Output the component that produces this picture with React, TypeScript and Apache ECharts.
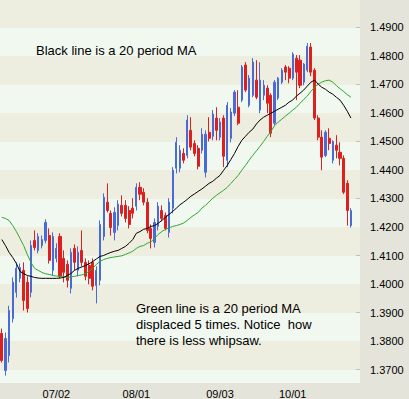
import React, { useEffect, useRef } from "react";
import * as echarts from "echarts";

// ---- data -------------------------------------------------------------
const startDate = [2007, 5, 11]; // first bar: 11 June (weekdays only)
const slotCount = 99; // category slots on the x axis (last two empty)
const tickLabels = ["07/02", "08/01", "09/03", "10/01"];
const yTicks = [1.37, 1.38, 1.39, 1.4, 1.41, 1.42, 1.43, 1.44, 1.45, 1.46, 1.47, 1.48, 1.49];
const yMin = 1.3653;
const yMax = 1.4996;

// [open, close, low, high]
const candles = [
  [1.3827, 1.3732, 1.3725, 1.3844],
  [1.3697, 1.3809, 1.3679, 1.383],
  [1.3749, 1.3907, 1.3725, 1.3924],
  [1.3879, 1.4006, 1.3865, 1.4023],
  [1.3971, 1.4055, 1.3953, 1.4076],
  [1.402, 1.4058, 1.4006, 1.4072],
  [1.4048, 1.3942, 1.3907, 1.4076],
  [1.4006, 1.3914, 1.39, 1.4027],
  [1.3971, 1.4135, 1.3953, 1.4153],
  [1.4153, 1.4128, 1.4118, 1.4188],
  [1.4118, 1.4167, 1.4108, 1.4178],
  [1.4135, 1.4156, 1.4125, 1.417],
  [1.4153, 1.4216, 1.4143, 1.4227],
  [1.417, 1.4083, 1.4072, 1.4195],
  [1.4048, 1.4167, 1.403, 1.4181],
  [1.409, 1.4125, 1.4076, 1.4143],
  [1.4167, 1.4027, 1.402, 1.4178],
  [1.409, 1.4041, 1.4006, 1.4118],
  [1.4069, 1.4013, 1.3988, 1.4083],
  [1.3985, 1.4111, 1.3967, 1.4125],
  [1.4125, 1.4076, 1.4048, 1.4139],
  [1.4048, 1.4111, 1.4027, 1.4132],
  [1.4118, 1.4076, 1.4062, 1.4188],
  [1.4076, 1.4027, 1.4013, 1.409],
  [1.4065, 1.402, 1.3999, 1.4083],
  [1.4076, 1.3992, 1.3978, 1.409],
  [1.3995, 1.4048, 1.3932, 1.4062],
  [1.4013, 1.4209, 1.3995, 1.4223],
  [1.4167, 1.4304, 1.4153, 1.4318],
  [1.4287, 1.4258, 1.4251, 1.4353],
  [1.4248, 1.4198, 1.417, 1.4258],
  [1.4181, 1.4251, 1.4153, 1.4269],
  [1.4205, 1.428, 1.4188, 1.4294],
  [1.4276, 1.4248, 1.4237, 1.4311],
  [1.4276, 1.423, 1.4216, 1.4294],
  [1.4258, 1.4209, 1.4195, 1.4273],
  [1.4266, 1.4248, 1.423, 1.4301],
  [1.4273, 1.4339, 1.4258, 1.4353],
  [1.4339, 1.4315, 1.4294, 1.4357],
  [1.4322, 1.4287, 1.4276, 1.4336],
  [1.4287, 1.4188, 1.4178, 1.4301],
  [1.4195, 1.416, 1.4125, 1.4209],
  [1.4146, 1.4216, 1.4128, 1.423],
  [1.4202, 1.4273, 1.4188, 1.4287],
  [1.4258, 1.423, 1.422, 1.4276],
  [1.4241, 1.4195, 1.4188, 1.4251],
  [1.4181, 1.4287, 1.4163, 1.4301],
  [1.4266, 1.4399, 1.4248, 1.441],
  [1.4406, 1.4497, 1.4388, 1.4515],
  [1.4406, 1.4469, 1.4392, 1.4487],
  [1.4458, 1.4434, 1.4423, 1.4476],
  [1.4451, 1.4575, 1.4441, 1.4592],
  [1.4539, 1.448, 1.4469, 1.4585],
  [1.4493, 1.4458, 1.4448, 1.4504],
  [1.4476, 1.4413, 1.4402, 1.4487],
  [1.4469, 1.4525, 1.4458, 1.4546],
  [1.4392, 1.4525, 1.4374, 1.4539],
  [1.4532, 1.4511, 1.45, 1.4585],
  [1.4518, 1.4596, 1.4504, 1.461],
  [1.4582, 1.4539, 1.4504, 1.462],
  [1.4515, 1.4568, 1.4504, 1.4582],
  [1.4582, 1.4448, 1.441, 1.4592],
  [1.4434, 1.4627, 1.441, 1.4638],
  [1.4511, 1.4603, 1.4497, 1.4617],
  [1.4599, 1.4673, 1.4589, 1.468],
  [1.462, 1.4564, 1.4557, 1.468],
  [1.4645, 1.4761, 1.4638, 1.4768],
  [1.4768, 1.468, 1.4673, 1.4778],
  [1.4627, 1.4722, 1.462, 1.4733],
  [1.4662, 1.4778, 1.4655, 1.4792],
  [1.4715, 1.4655, 1.4648, 1.4785],
  [1.461, 1.4715, 1.4599, 1.4778],
  [1.4662, 1.4697, 1.4645, 1.4715],
  [1.4687, 1.4634, 1.4599, 1.4697],
  [1.4662, 1.4529, 1.4515, 1.4669],
  [1.4564, 1.4708, 1.4557, 1.4715],
  [1.4652, 1.4722, 1.4645, 1.4726],
  [1.4708, 1.475, 1.4701, 1.4757],
  [1.4761, 1.4743, 1.4715, 1.4768],
  [1.4757, 1.4722, 1.4704, 1.4764],
  [1.4722, 1.4806, 1.4715, 1.4813],
  [1.4792, 1.4743, 1.4645, 1.4803],
  [1.4785, 1.4697, 1.4687, 1.4803],
  [1.4708, 1.4771, 1.4697, 1.4775],
  [1.475, 1.4834, 1.4743, 1.4845],
  [1.4831, 1.4743, 1.4729, 1.4845],
  [1.475, 1.4582, 1.4575, 1.4757],
  [1.4582, 1.4515, 1.4504, 1.4592],
  [1.4515, 1.4445, 1.4399, 1.4539],
  [1.4451, 1.4532, 1.4445, 1.4539],
  [1.4511, 1.4493, 1.4469, 1.4546],
  [1.4434, 1.45, 1.4423, 1.4504],
  [1.4487, 1.4469, 1.4441, 1.4522],
  [1.4462, 1.4441, 1.4416, 1.4497],
  [1.4441, 1.4322, 1.4315, 1.4451],
  [1.4353, 1.4258, 1.4205, 1.4364],
  [1.4205, 1.4258, 1.4198, 1.4266],
];

const ma20 = [
  1.4156, 1.4135, 1.4111, 1.4093, 1.4072, 1.4044, 1.4037, 1.403, 1.4027, 1.4023,
  1.4021, 1.402, 1.402, 1.402, 1.402, 1.402, 1.4021, 1.4023, 1.403, 1.4037,
  1.4048, 1.4055, 1.406, 1.4065, 1.4071, 1.4079, 1.4088, 1.4097, 1.41, 1.4106,
  1.4111, 1.4115, 1.4118, 1.4125, 1.4132, 1.4143, 1.4156, 1.4178, 1.4184, 1.4192,
  1.4195, 1.4202, 1.4205, 1.4213, 1.4223, 1.4234, 1.4244, 1.4255, 1.4266, 1.4278,
  1.4287, 1.4297, 1.4308, 1.4316, 1.4325, 1.4333, 1.4343, 1.4353, 1.436, 1.4371,
  1.4381, 1.4399, 1.4416, 1.4437, 1.4458, 1.4483, 1.4504, 1.4518, 1.4532, 1.4543,
  1.4561, 1.4575, 1.4585, 1.4592, 1.4599, 1.4606, 1.4613, 1.462, 1.4627, 1.4638,
  1.4645, 1.4659, 1.4669, 1.468, 1.4694, 1.4708, 1.4715, 1.4701, 1.469, 1.4683,
  1.4673, 1.4666, 1.4655, 1.4645, 1.4627, 1.4606, 1.4582,
];

const ma20Displaced = [
  1.4234, 1.423, 1.4223, 1.4205, 1.4184, 1.416, 1.4135, 1.4104, 1.4076, 1.4055,
  1.4048, 1.4041, 1.4036, 1.4034, 1.403, 1.4028, 1.4027, 1.4025, 1.4023, 1.4025,
  1.4027, 1.403, 1.4032, 1.4037, 1.4044, 1.4055, 1.4069, 1.4079, 1.4086, 1.409,
  1.4093, 1.4095, 1.4097, 1.4099, 1.4104, 1.4109, 1.4115, 1.4125, 1.4132, 1.4135,
  1.4143, 1.4148, 1.416, 1.4174, 1.4184, 1.4192, 1.4197, 1.4202, 1.4205, 1.4209,
  1.4214, 1.4223, 1.4234, 1.4243, 1.4251, 1.4266, 1.4276, 1.4288, 1.4301, 1.4311,
  1.432, 1.4329, 1.4339, 1.4353, 1.4367, 1.4381, 1.4399, 1.4416, 1.4434, 1.4451,
  1.4467, 1.4483, 1.45, 1.4518, 1.4535, 1.4555, 1.4568, 1.4578, 1.4589, 1.4599,
  1.461, 1.462, 1.4634, 1.4647, 1.4659, 1.4676, 1.469, 1.4701, 1.4708, 1.4713,
  1.4715, 1.4708, 1.4696, 1.4685, 1.4675, 1.4664, 1.4655,
];

const noteTop = "Black line is a 20 period MA";
const noteBottom = ["Green line is a 20 period MA", "displaced 5 times. Notice  how", "there is less whipsaw."];

// ---- styles -----------------------------------------------------------
const W = 409;
const H = 399;
const PANEL = "#e4e4db";
const CREAM = "#eeeee0";
const MINT = "#f1f8f0";
const UP = "#4a6ad8";
const DOWN = "#dc2020";
const FONT = "'Liberation Sans', Arial, sans-serif";

function buildDates(): string[] {
  const out: string[] = [];
  let t = Date.UTC(startDate[0], startDate[1], startDate[2]);
  while (out.length < slotCount) {
    const d = new Date(t);
    const wd = d.getUTCDay();
    if (wd !== 0 && wd !== 6) {
      const mm = String(d.getUTCMonth() + 1).padStart(2, "0");
      const dd = String(d.getUTCDate()).padStart(2, "0");
      out.push(`${mm}/${dd}`);
    }
    t += 86400000;
  }
  return out;
}

export default function App() {
  const ref = useRef<HTMLDivElement>(null);

  useEffect(() => {
    if (!ref.current) return;
    const chart = echarts.init(ref.current, null, { renderer: "svg" });
    const dates = buildDates();

    const edges = [yMin, ...yTicks, yMax];
    const bands = [] as any[];
    for (let k = 0; k < edges.length - 1; k++) {
      bands.push([
        { yAxis: edges[k], itemStyle: { color: k % 2 === 1 ? CREAM : MINT } },
        { yAxis: edges[k + 1] },
      ]);
    }

    const upData = candles.map((c) => (c[1] >= c[0] ? c : "-"));
    const downData = candles.map((c) => (c[1] < c[0] ? c : "-"));
    const isLabel = (_i: number, v: string) => tickLabels.includes(v);

    chart.setOption({
      animation: false,
      backgroundColor: PANEL,
      grid: { left: -1, right: W - 360, top: 0, bottom: H - 383 },
      xAxis: {
        type: "category",
        data: dates,
        boundaryGap: true,
        axisLine: { show: false },
        axisTick: {
          show: true,
          inside: true,
          length: 5,
          alignWithLabel: true,
          interval: isLabel,
          lineStyle: { color: "#333" },
        },
        axisLabel: {
          interval: isLabel,
          color: "#000",
          fontSize: 11,
          fontFamily: FONT,
          margin: 5,
        },
        splitLine: { show: false },
      },
      yAxis: {
        type: "value",
        position: "right",
        min: yMin,
        max: yMax,
        axisLine: { show: false },
        axisTick: {
          show: true,
          inside: true,
          length: 4,
          customValues: yTicks,
          lineStyle: { color: "#333" },
        },
        axisLabel: {
          customValues: yTicks,
          formatter: (v: number) => v.toFixed(4),
          color: "#000",
          fontSize: 11,
          fontFamily: FONT,
          margin: 10,
        },
        splitLine: { show: false },
        splitArea: { show: false },
      },
      series: [
        {
          name: "bands",
          type: "line",
          data: dates.map(() => "-"),
          silent: true,
          z: 0,
          markArea: { silent: true, data: bands },
        },
        {
          name: "up",
          type: "candlestick",
          data: upData,
          barWidth: 1.6,
          z: 2,
          itemStyle: { color: UP, color0: UP, borderColor: UP, borderColor0: UP, borderWidth: 1 },
        },
        {
          name: "down",
          type: "candlestick",
          data: downData,
          barWidth: 2.6,
          z: 2,
          itemStyle: { color: DOWN, color0: DOWN, borderColor: DOWN, borderColor0: DOWN, borderWidth: 1 },
        },
        {
          name: "MA20 displaced",
          type: "line",
          data: ma20Displaced,
          symbol: "none",
          z: 3,
          lineStyle: { color: "#2ea82e", width: 1 },
        },
        {
          name: "MA20",
          type: "line",
          data: ma20,
          symbol: "none",
          z: 4,
          lineStyle: { color: "#000", width: 1 },
        },
      ],
      graphic: [
        {
          type: "text",
          left: 36,
          top: 44,
          z: 10,
          style: { text: noteTop, fill: "#000", fontSize: 13, fontFamily: FONT },
        },
        {
          type: "text",
          left: 136,
          top: 300,
          z: 10,
          style: {
            text: noteBottom.join("\n"),
            fill: "#000",
            fontSize: 13,
            fontFamily: FONT,
            lineHeight: 16,
          },
        },
      ],
    });

    return () => chart.dispose();
  }, []);

  return (
    <div
      ref={ref}
      style={{ position: "fixed", left: 0, top: 0, width: W, height: H }}
    />
  );
}
